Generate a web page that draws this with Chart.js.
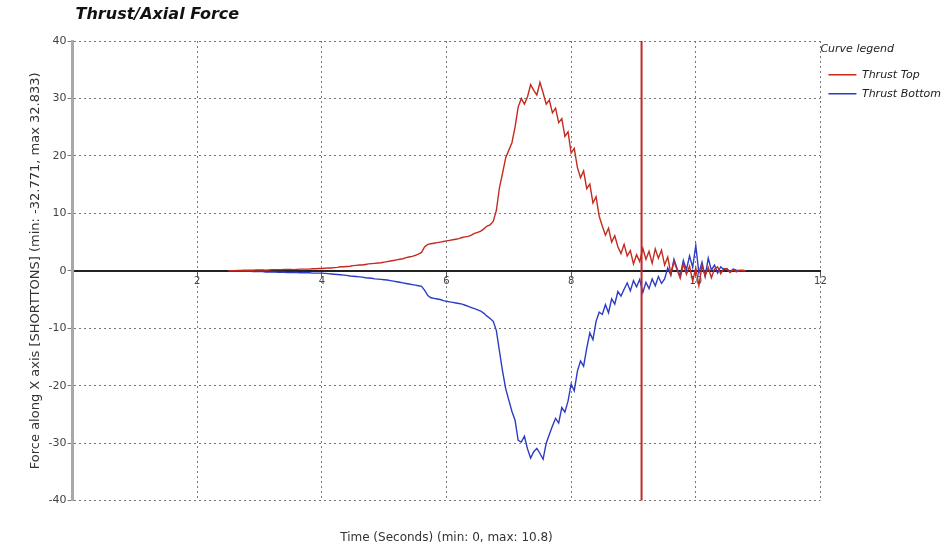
<!DOCTYPE html>
<html>
<head>
<meta charset="utf-8">
<script src="https://cdn.jsdelivr.net/npm/chart.js@4.4.0/dist/chart.umd.min.js"></script>
<style>
  html, body { margin: 0; padding: 0; background: #fff; }
  #wrap { width: 952px; height: 554px; position: relative; }
</style>
</head>
<body>
<div id="wrap"><canvas id="thrustChart"></canvas></div>
<script>
// ── data ──
const chartTitle = 'Thrust/Axial Force';
const legendTitle = 'Curve legend';
const seriesNames = ['Thrust Top', 'Thrust Bottom'];
const xAxisTitle = 'Time (Seconds) (min: 0, max: 10.8)';
const yAxisTitle = 'Force along X axis [SHORTTONS] (min: -32.771, max 32.833)';
const cursorTime = 9.13;

const timeSec = [
  2.50, 2.55, 2.60, 2.65, 2.70, 2.75, 2.80, 2.85, 2.90, 2.95,
  3.00, 3.05, 3.10, 3.15, 3.20, 3.25, 3.30, 3.35, 3.40, 3.45,
  3.50, 3.55, 3.60, 3.65, 3.70, 3.75, 3.80, 3.85, 3.90, 3.95,
  4.00, 4.05, 4.10, 4.15, 4.20, 4.25, 4.30, 4.35, 4.40, 4.45,
  4.50, 4.55, 4.60, 4.65, 4.70, 4.75, 4.80, 4.85, 4.90, 4.95,
  5.00, 5.05, 5.10, 5.15, 5.20, 5.25, 5.30, 5.35, 5.40, 5.45,
  5.50, 5.55, 5.60, 5.65, 5.70, 5.75, 5.80, 5.85, 5.90, 5.95,
  6.00, 6.05, 6.10, 6.15, 6.20, 6.25, 6.30, 6.35, 6.40, 6.45,
  6.50, 6.55, 6.60, 6.65, 6.70, 6.75, 6.80, 6.85, 6.90, 6.95,
  7.00, 7.05, 7.10, 7.15, 7.20, 7.25, 7.30, 7.35, 7.40, 7.45,
  7.50, 7.55, 7.60, 7.65, 7.70, 7.75, 7.80, 7.85, 7.90, 7.95,
  8.00, 8.05, 8.10, 8.15, 8.20, 8.25, 8.30, 8.35, 8.40, 8.45,
  8.50, 8.55, 8.60, 8.65, 8.70, 8.75, 8.80, 8.85, 8.90, 8.95,
  9.00, 9.05, 9.10, 9.15, 9.20, 9.25, 9.30, 9.35, 9.40, 9.45,
  9.50, 9.55, 9.60, 9.65, 9.70, 9.75, 9.80, 9.85, 9.90, 9.95,
  10.00, 10.05, 10.10, 10.15, 10.20, 10.25, 10.30, 10.35, 10.40, 10.45,
  10.50, 10.55, 10.60, 10.65, 10.70, 10.75, 10.80
];

const thrustTop = [
  0, 0, 0, 0.05, 0.05, 0.1, 0.1, 0.1, 0.1, 0.15,
  0.15, 0.15, 0.1, 0.15, 0.2, 0.2, 0.2, 0.2, 0.25, 0.25,
  0.25, 0.2, 0.25, 0.3, 0.3, 0.3, 0.3, 0.35, 0.35, 0.4,
  0.4, 0.45, 0.5, 0.5, 0.55, 0.6, 0.7, 0.7, 0.75, 0.8,
  0.9, 0.95, 1.0, 1.0, 1.1, 1.2, 1.25, 1.3, 1.35, 1.4,
  1.5, 1.6, 1.7, 1.8, 1.9, 2.0, 2.1, 2.3, 2.4, 2.5,
  2.7, 2.9, 3.2, 4.2, 4.6, 4.7, 4.8, 4.9, 5.0, 5.1,
  5.2, 5.3, 5.4, 5.5, 5.6, 5.8, 5.9, 6.0, 6.2, 6.5,
  6.7, 6.9, 7.3, 7.8, 8.0, 8.6, 10.5, 14.5, 17.0, 19.7,
  21.0, 22.3, 25.0, 28.5, 30.0, 29.0, 30.3, 32.4, 31.4, 30.6,
  32.8, 31.0, 29.0, 29.7, 27.5, 28.3, 25.8, 26.5, 23.4, 24.2,
  20.5, 21.3, 18.0, 16.2, 17.4, 14.3, 15.1, 11.8, 12.9, 9.5,
  7.8, 6.2, 7.4, 5.0, 6.1, 4.2, 3.0, 4.6, 2.6, 3.5,
  1.2, 2.8, 1.6, 3.9, 2.0, 3.4, 1.3, 3.8, 2.2, 3.6,
  1.0, 2.4, -0.5, 1.6, 0.2, -1.3, 1.2, -0.6, 0.8, -1.8,
  0.5, -2.6, 0.9, -0.9, 0.6, -1.2, 0.3, 0.7, -0.5, 0.4,
  0.3, -0.3, 0.2, -0.2, 0.1, 0, 0
];

const thrustBottom = [
  0, 0, 0, -0.05, -0.05, -0.1, -0.1, -0.1, -0.15, -0.15,
  -0.15, -0.15, -0.2, -0.2, -0.2, -0.2, -0.25, -0.25, -0.25, -0.3,
  -0.3, -0.3, -0.3, -0.35, -0.3, -0.35, -0.35, -0.4, -0.4, -0.4,
  -0.4, -0.45, -0.5, -0.55, -0.6, -0.65, -0.7, -0.75, -0.8, -0.9,
  -0.95, -1.0, -1.05, -1.1, -1.2, -1.25, -1.3, -1.4, -1.45, -1.5,
  -1.55, -1.6, -1.7, -1.8, -1.9, -2.0, -2.1, -2.2, -2.3, -2.4,
  -2.5, -2.6, -2.7, -3.4, -4.3, -4.7, -4.8, -4.9, -5.0, -5.2,
  -5.3, -5.4, -5.5, -5.6, -5.7, -5.8, -6.0, -6.2, -6.4, -6.6,
  -6.8, -7.0, -7.4, -7.9, -8.3, -8.8, -10.4, -14.0, -17.5, -20.5,
  -22.5, -24.5, -26.0, -29.5, -29.8, -28.8, -31.0, -32.6, -31.5, -30.9,
  -31.8, -32.8, -30.0, -28.5, -27.0, -25.7, -26.5, -23.8, -24.6, -22.7,
  -19.7, -20.9, -17.5, -15.7, -16.6, -13.5, -10.8, -12.0, -8.8, -7.2,
  -7.6, -5.9, -7.3, -4.9, -5.8, -3.6, -4.4, -3.2, -2.1, -3.5,
  -1.7, -2.8, -1.5, -3.8, -2.0, -3.1, -1.4, -2.6, -1.0, -2.2,
  -1.4, 0.5, -0.8, 2.0, 0.4, -0.9, 1.8, 0.2, 2.6, 0.6,
  4.4, -0.4, 1.5, -1.0, 2.2, 0.1, 1.0, -0.4, 0.7, 0.2,
  0.4, -0.2, 0.3, 0.1, 0, 0.1, 0
];

const seriesColors = ['#c42a1e', '#2c3cc4'];

const font = "'DejaVu Sans', Verdana, sans-serif";
const dotted = [2, 3];

function points(vals) {
  return vals.map((v, i) => ({ x: timeSec[i], y: v }));
}

new Chart(document.getElementById('thrustChart'), {
  type: 'line',
  data: {
    datasets: [
      { label: seriesNames[0], data: points(thrustTop), borderColor: seriesColors[0], backgroundColor: seriesColors[0],
        borderWidth: 1.4, pointRadius: 0, tension: 0, fill: false },
      { label: seriesNames[1], data: points(thrustBottom), borderColor: seriesColors[1], backgroundColor: seriesColors[1],
        borderWidth: 1.4, pointRadius: 0, tension: 0, fill: false }
    ]
  },
  options: {
    responsive: true, maintainAspectRatio: false, animation: false,
    layout: { padding: { top: 41, left: 28, right: 1, bottom: 9 } },
    plugins: {
      tooltip: { enabled: false },
      title: { display: false },
      legend: {
        position: 'right', align: 'start',
        title: { display: true, text: legendTitle, position: 'start', color: '#222',
                 font: { family: font, size: 11, style: 'italic' }, padding: { top: 3, bottom: 4 } },
        labels: { color: '#222', font: { family: font, size: 11, style: 'italic' }, usePointStyle: true,
                  pointStyle: 'line', pointStyleWidth: 28, padding: 8 }
      }
    },
    scales: {
      x: {
        type: 'linear', position: 'bottom', min: 0, max: 12,
        ticks: { display: false, stepSize: 2 },
        border: { display: false, dash: dotted },
        grid: { color: '#777', drawTicks: false, lineWidth: 1 },
        title: { display: true, text: xAxisTitle, color: '#333', font: { family: font, size: 12 }, padding: { top: 30, bottom: 0 } }
      },
      x2: {
        type: 'linear', position: { y: 0 }, min: 0, max: 12,
        ticks: { stepSize: 2, color: '#444', font: { family: font, size: 10 }, padding: 1,
                 callback: v => v === 0 ? '' : v },
        border: { color: '#222', width: 2 },
        grid: { drawOnChartArea: false, tickLength: 4, tickColor: '#555' }
      },
      y: {
        min: -40, max: 40,
        ticks: { stepSize: 10, color: '#444', font: { family: font, size: 11 }, padding: 1 },
        border: { color: '#a8a8a8', width: 3, dash: dotted },
        grid: { color: '#777', tickLength: 5, tickColor: '#777', tickBorderDash: [] },
        title: { display: true, text: yAxisTitle, color: '#333', font: { family: font, size: 13 }, padding: { top: 0, bottom: 4 } }
      }
    }
  },
  plugins: [{
    id: 'cursorAndTitle',
    afterDatasetsDraw(chart) {
      const ctx = chart.ctx;
      const area = chart.chartArea;
      const xp = chart.scales.x.getPixelForValue(cursorTime);
      ctx.save();
      ctx.strokeStyle = '#c0282a';
      ctx.lineWidth = 2;
      ctx.beginPath();
      ctx.moveTo(xp, area.top);
      ctx.lineTo(xp, area.bottom);
      ctx.stroke();
      ctx.restore();
    },
    afterDraw(chart) {
      const ctx = chart.ctx;
      ctx.save();
      ctx.fillStyle = '#111';
      ctx.font = "italic bold 16px " + font;
      ctx.textAlign = 'left'; ctx.textBaseline = 'middle';
      ctx.fillText(chartTitle, chart.chartArea.left + 3, 15);
      ctx.restore();
    }
  }]
});
</script>
</body>
</html>
